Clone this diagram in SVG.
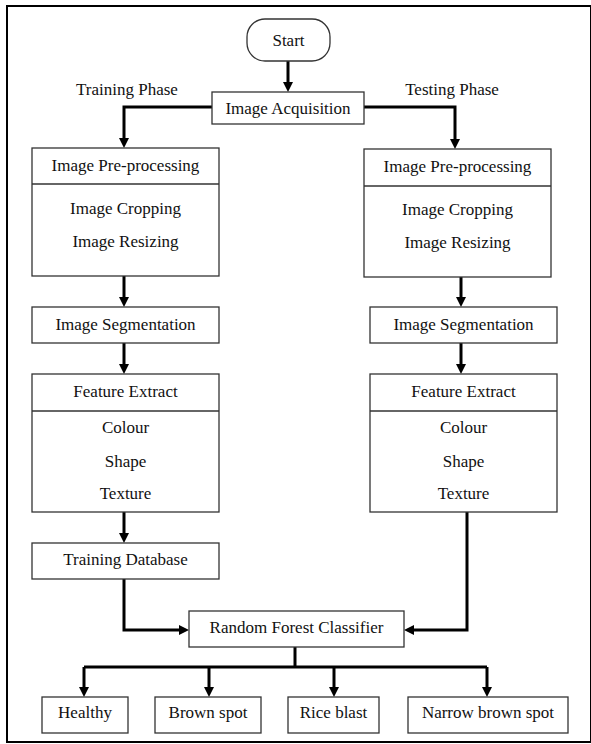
<svg xmlns="http://www.w3.org/2000/svg" width="591" height="744" viewBox="0 0 591 744">
<style>
.box{fill:#fff;stroke:#333;stroke-width:1.3}
.t{font-family:"Liberation Serif","Times New Roman",serif;font-size:17px;fill:#111;text-anchor:middle}
.c{fill:none;stroke:#000;stroke-width:3}
.d{stroke:#333;stroke-width:1.3}
</style>
<defs>
<marker id="ah" markerUnits="userSpaceOnUse" markerWidth="10" markerHeight="10" refX="4" refY="5" orient="auto">
<path d="M0,0 L10,5 L0,10 z" fill="#000"/>
</marker>
</defs>
<rect x="7" y="6" width="584" height="736" fill="#fff" stroke="#000" stroke-width="2"/>
<text class="t" x="127" y="95">Training Phase</text>
<text class="t" x="452" y="95">Testing Phase</text>
<g id="connectors">
<path class="c" d="M288,61 V86" marker-end="url(#ah)"/>
<path class="c" d="M212,107 H124 V142" marker-end="url(#ah)"/>
<path class="c" d="M364,107 H455 V143" marker-end="url(#ah)"/>
<path class="c" d="M124,276 V301" marker-end="url(#ah)"/>
<path class="c" d="M461,277 V301" marker-end="url(#ah)"/>
<path class="c" d="M124,343 V368" marker-end="url(#ah)"/>
<path class="c" d="M461,343 V368" marker-end="url(#ah)"/>
<path class="c" d="M124,512 V537" marker-end="url(#ah)"/>
<path class="c" d="M124,579 V630 H183" marker-end="url(#ah)"/>
<path class="c" d="M467,512 V630 H410" marker-end="url(#ah)"/>
<path class="c" d="M295,647 V667"/>
<path class="c" d="M84,667 H487"/>
<path class="c" d="M84,667 V691" marker-end="url(#ah)"/>
<path class="c" d="M209,667 V691" marker-end="url(#ah)"/>
<path class="c" d="M334,667 V691" marker-end="url(#ah)"/>
<path class="c" d="M487,667 V691" marker-end="url(#ah)"/>
</g>
<g id="start">
<rect class="box" x="247" y="19" width="83" height="42" rx="18"/>
<text class="t" x="288.5" y="46">Start</text>
</g>
<g id="acquisition">
<rect class="box" x="212" y="92" width="152" height="32"/>
<text class="t" x="288" y="114">Image Acquisition</text>
</g>
<g id="train-preproc">
<rect class="box" x="32" y="148" width="187" height="128"/>
<line class="d" x1="32" y1="184" x2="219" y2="184"/>
<text class="t" x="125.5" y="171">Image Pre-processing</text>
<text class="t" x="125.5" y="214">Image Cropping</text>
<text class="t" x="125.5" y="247">Image Resizing</text>
</g>
<g id="test-preproc">
<rect class="box" x="364" y="149" width="187" height="128"/>
<line class="d" x1="364" y1="186" x2="551" y2="186"/>
<text class="t" x="457.5" y="172">Image Pre-processing</text>
<text class="t" x="457.5" y="215">Image Cropping</text>
<text class="t" x="457.5" y="248">Image Resizing</text>
</g>
<g id="train-seg">
<rect class="box" x="32" y="307" width="187" height="36"/>
<text class="t" x="125.5" y="330">Image Segmentation</text>
</g>
<g id="test-seg">
<rect class="box" x="370" y="307" width="187" height="36"/>
<text class="t" x="463.5" y="330">Image Segmentation</text>
</g>
<g id="train-feat">
<rect class="box" x="32" y="374" width="187" height="138"/>
<line class="d" x1="32" y1="411" x2="219" y2="411"/>
<text class="t" x="125.5" y="397">Feature Extract</text>
<text class="t" x="125.5" y="433">Colour</text>
<text class="t" x="125.5" y="467">Shape</text>
<text class="t" x="125.5" y="499">Texture</text>
</g>
<g id="test-feat">
<rect class="box" x="370" y="374" width="187" height="138"/>
<line class="d" x1="370" y1="411" x2="557" y2="411"/>
<text class="t" x="463.5" y="397">Feature Extract</text>
<text class="t" x="463.5" y="433">Colour</text>
<text class="t" x="463.5" y="467">Shape</text>
<text class="t" x="463.5" y="499">Texture</text>
</g>
<g id="training-db">
<rect class="box" x="32" y="543" width="187" height="36"/>
<text class="t" x="125.5" y="565">Training Database</text>
</g>
<g id="classifier">
<rect class="box" x="189" y="611" width="215" height="36"/>
<text class="t" x="296.5" y="633">Random Forest Classifier</text>
</g>
<g id="healthy">
<rect class="box" x="42" y="697" width="86" height="36"/>
<text class="t" x="85" y="718">Healthy</text>
</g>
<g id="brown-spot">
<rect class="box" x="155" y="697" width="106" height="36"/>
<text class="t" x="208" y="718">Brown spot</text>
</g>
<g id="rice-blast">
<rect class="box" x="288" y="697" width="91" height="36"/>
<text class="t" x="333.5" y="718">Rice blast</text>
</g>
<g id="narrow-brown-spot">
<rect class="box" x="408" y="697" width="160" height="36"/>
<text class="t" x="488" y="718">Narrow brown spot</text>
</g>
</svg>
